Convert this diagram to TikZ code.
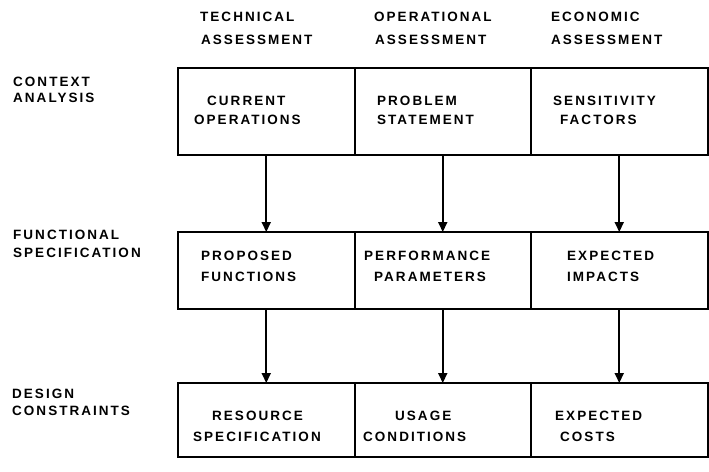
\documentclass[tikz,border=0pt]{standalone}
\usepackage{fontspec}
\newfontfamily\lblfont[LetterSpace=15]{Liberation Sans}
\usetikzlibrary{arrows.meta}

\tikzset{
  cell/.style={draw, line width=2pt, minimum width=176.5pt, minimum height=#1,
               inner sep=0pt, outer sep=0pt, anchor=north west},
  txt/.style={anchor=west, inner sep=0pt, font=\lblfont\bfseries\fontsize{13.5}{15}\selectfont},
  flow/.style={line width=2pt, -{Triangle[length=10pt,width=9pt]}},
}

\begin{document}
\begin{tikzpicture}[x=1pt,y=-1pt]
  \useasboundingbox (0,0) rectangle (709,471);

  % column headings
  \node[txt] (h1a) at (200,17) {TECHNICAL};
  \node[txt] (h1b) at (201,40) {ASSESSMENT};
  \node[txt] (h2a) at (374,17) {OPERATIONAL};
  \node[txt] (h2b) at (375,40) {ASSESSMENT};
  \node[txt] (h3a) at (551,17) {ECONOMIC};
  \node[txt] (h3b) at (551,40) {ASSESSMENT};

  % row headings
  \node[txt] (r1a) at (13,82) {CONTEXT};
  \node[txt] (r1b) at (13,98) {ANALYSIS};
  \node[txt] (r2a) at (13,235) {FUNCTIONAL};
  \node[txt] (r2b) at (13,253) {SPECIFICATION};
  \node[txt] (r3a) at (12,394) {DESIGN};
  \node[txt] (r3b) at (12,411) {CONSTRAINTS};

  % matrix cells
  \node[cell=87pt] (b11) at (178,68) {};
  \node[cell=87pt] (b12) at (354.5,68) {};
  \node[cell=87pt] (b13) at (531,68) {};
  \node[cell=77pt] (b21) at (178,232) {};
  \node[cell=77pt] (b22) at (354.5,232) {};
  \node[cell=77pt] (b23) at (531,232) {};
  \node[cell=74pt] (b31) at (178,383) {};
  \node[cell=74pt] (b32) at (354.5,383) {};
  \node[cell=74pt] (b33) at (531,383) {};

  % cell texts
  \node[txt] (c11a) at (207,101) {CURRENT};
  \node[txt] (c11b) at (194,120) {OPERATIONS};
  \node[txt] (c12a) at (377,101) {PROBLEM};
  \node[txt] (c12b) at (377,120) {STATEMENT};
  \node[txt] (c13a) at (553,101) {SENSITIVITY};
  \node[txt] (c13b) at (560,120) {FACTORS};

  \node[txt] (c21a) at (201,256) {PROPOSED};
  \node[txt] (c21b) at (201,277) {FUNCTIONS};
  \node[txt] (c22a) at (364,256) {PERFORMANCE};
  \node[txt] (c22b) at (374,277) {PARAMETERS};
  \node[txt] (c23a) at (567,256) {EXPECTED};
  \node[txt] (c23b) at (567,277) {IMPACTS};

  \node[txt] (c31a) at (212,416) {RESOURCE};
  \node[txt] (c31b) at (193,437) {SPECIFICATION};
  \node[txt] (c32a) at (395,416) {USAGE};
  \node[txt] (c32b) at (363,437) {CONDITIONS};
  \node[txt] (c33a) at (555,416) {EXPECTED};
  \node[txt] (c33b) at (560,437) {COSTS};

  % downward flow between rows
  \draw[flow] (b11) -- (b21);
  \draw[flow] (b12) -- (b22);
  \draw[flow] (b13) -- (b23);
  \draw[flow] (b21) -- (b31);
  \draw[flow] (b22) -- (b32);
  \draw[flow] (b23) -- (b33);
\end{tikzpicture}
\end{document}
